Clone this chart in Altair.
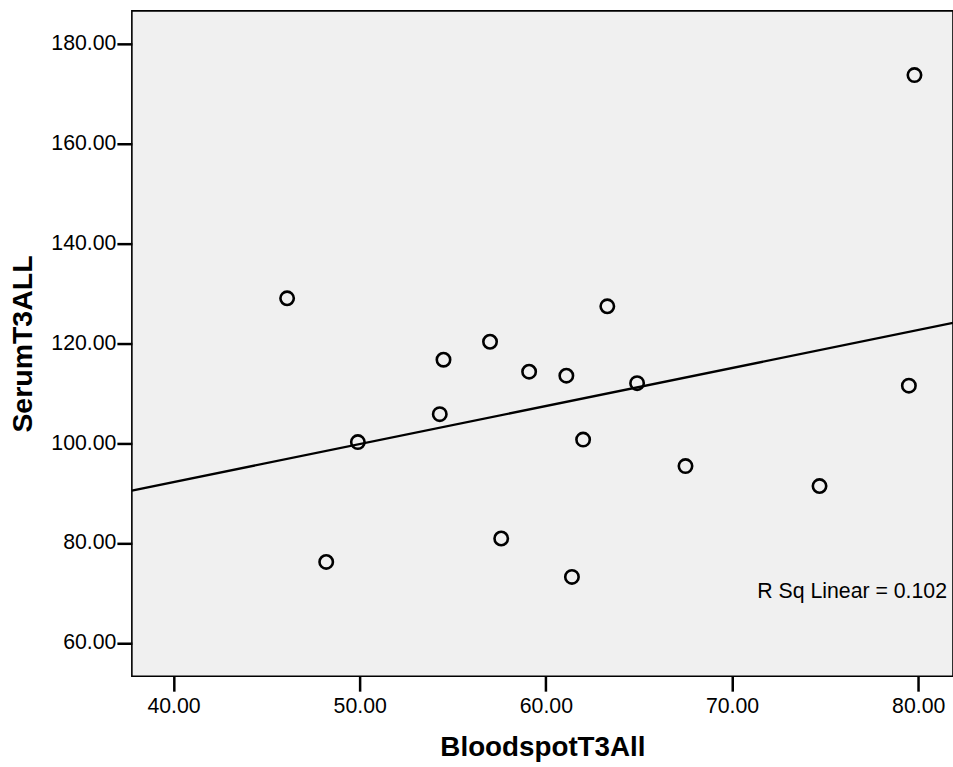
import altair as alt
import pandas as pd

bloodspot = [46.1, 48.2, 49.9, 54.3, 54.5, 57.0, 57.6, 59.1, 61.1, 61.4, 62.0, 63.3, 64.9, 67.5, 74.7, 79.5, 79.8]
serum = [129.0, 76.2, 100.2, 105.8, 116.7, 120.3, 80.9, 114.3, 113.5, 73.2, 100.7, 127.4, 112.0, 95.4, 91.4, 111.5, 173.7]
x_ticks = [40, 50, 60, 70, 80]
y_ticks = [60, 80, 100, 120, 140, 160, 180]
r2_label = ["R Sq Linear = 0.102"]

df = pd.DataFrame({"BloodspotT3All": bloodspot, "SerumT3ALL": serum})

x_dom = [37.76, 81.87]
y_dom = [53.32, 186.56]

FONT = "Liberation Sans"

xs = alt.Scale(domain=x_dom, nice=False, zero=False)
ys = alt.Scale(domain=y_dom, nice=False, zero=False)

xaxis = alt.Axis(values=x_ticks, format=".2f", grid=False, domain=False,
                 tickSize=15, tickWidth=2.5, tickColor="black",
                 labelFont=FONT, labelFontSize=21.3, labelColor="black", labelPadding=4,
                 title="BloodspotT3All", titleFont=FONT, titleFontSize=27.8, titleFontWeight="bold",
                 titleColor="black", titlePadding=17)
yaxis = alt.Axis(values=y_ticks, format=".2f", grid=False, domain=False,
                 tickSize=15, tickWidth=2.5, tickColor="black",
                 labelFont=FONT, labelFontSize=21.3, labelColor="black", labelPadding=1,
                 title="SerumT3ALL", titleFont=FONT, titleFontSize=28.5, titleFontWeight="bold",
                 titleColor="black", titlePadding=13)

base = alt.Chart(df)

points = base.mark_point(shape="circle", filled=False, color="black", strokeWidth=2.6, size=180, opacity=1).encode(
    x=alt.X("BloodspotT3All:Q", scale=xs, axis=xaxis),
    y=alt.Y("SerumT3ALL:Q", scale=ys, axis=yaxis),
)

line = base.transform_regression("BloodspotT3All", "SerumT3ALL", extent=x_dom).mark_line(
    color="black", strokeWidth=2.3, clip=True
).encode(
    x=alt.X("BloodspotT3All:Q", scale=xs),
    y=alt.Y("SerumT3ALL:Q", scale=ys),
)

label = alt.Chart(pd.DataFrame({"t": r2_label})).mark_text(
    align="right", baseline="alphabetic", font=FONT, fontSize=21.3, color="black"
).encode(text="t:N", x=alt.value(816), y=alt.value(587.5))

chart = alt.layer(line, points, label).properties(
    width=822, height=666,
    autosize=alt.AutoSizeParams(type="none"),
    padding={"left": 132, "top": 10.5, "right": 0, "bottom": 90},
    background="white",
).configure_view(fill="#f0f0f0", stroke="black", strokeWidth=1.6)

chart.save("out.html", embed_options={"renderer": "svg", "actions": False})
